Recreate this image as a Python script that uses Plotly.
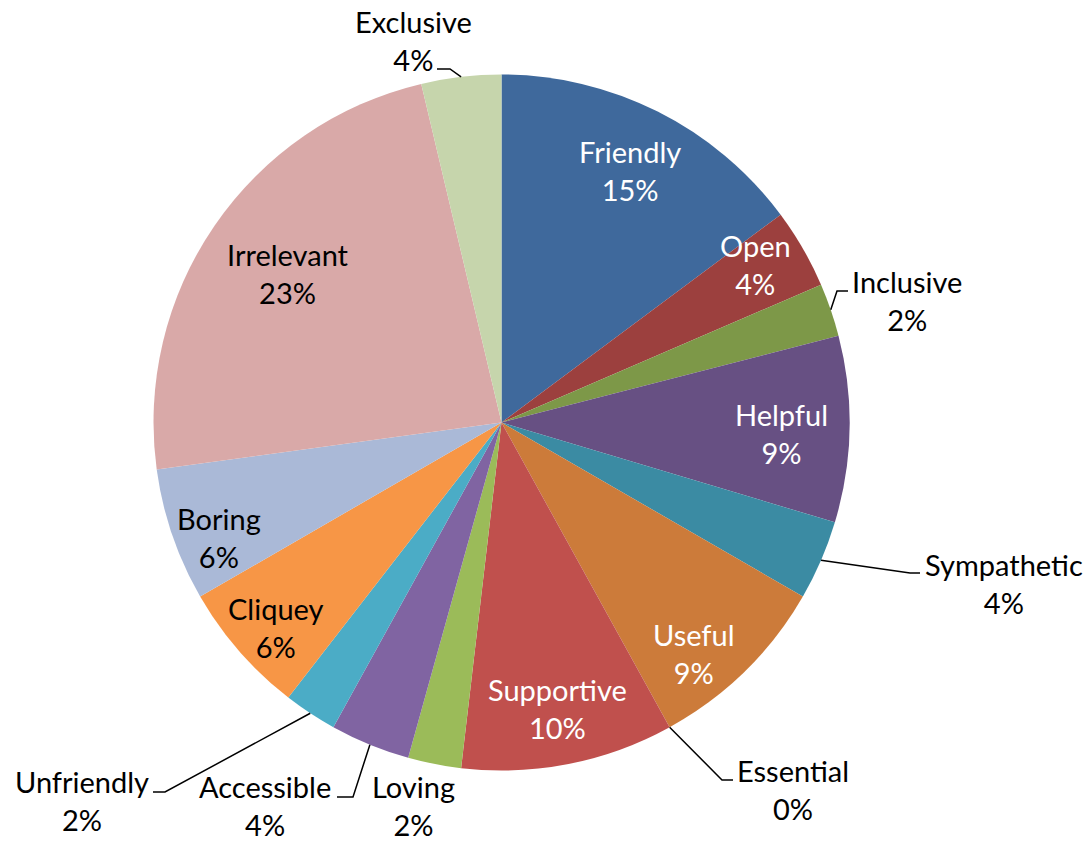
import math
import plotly.graph_objects as go

# Survey responses: how each word describes the group (counts of respondents)
labels = ["Friendly", "Open", "Inclusive", "Helpful", "Sympathetic", "Useful",
          "Essential", "Supportive", "Loving", "Accessible", "Unfriendly",
          "Cliquey", "Boring", "Irrelevant", "Exclusive"]
counts = [12, 3, 2, 7, 3, 7, 0, 8, 2, 3, 2, 5, 5, 19, 3]
colors = ["#3F699C", "#9C403E", "#7D9848", "#675083", "#3B8BA3", "#CC7B3A",
          "#4F81BD", "#C0504D", "#9BBB59", "#8064A2", "#4BACC6", "#F79646",
          "#AAB9D7", "#D9A9A8", "#C6D5AC"]

W, H = 1089, 844
CX, CY, R = 501.5, 422.5, 348.0
FONT = "Lato"
FSIZE = 29

total = sum(counts)
pct = [round(100 * c / total) for c in counts]


def px(x, y):
    return x / W, 1 - y / H


# label block centres (pixels) for labels drawn on the slices
inside = {
    "Friendly": ((630, 171), "white"),
    "Open": ((755, 264), "white"),
    "Helpful": ((781, 433), "white"),
    "Useful": ((694, 653), "white"),
    "Supportive": ((557, 708), "white"),
    "Cliquey": ((276, 627), "black"),
    "Boring": ((219, 537), "black"),
    "Irrelevant": ((288, 273), "black"),
}

# labels placed outside: block centre, leader elbow and leader end (pixels)
outside = {
    "Exclusive": ((413, 40), (450, 69), (437, 69)),
    "Inclusive": ((907, 300), (837, 291), (848, 291)),
    "Sympathetic": ((1004, 583), (910, 573), (920, 573)),
    "Essential": ((793, 789), (722, 780), (733, 780)),
    "Accessible": ((265, 805), (353, 797), (337, 797)),
    "Unfriendly": ((82, 800), (165, 792), (153, 792)),
    "Loving": ((413, 805), None, None),
}

fig = go.Figure(go.Pie(
    labels=labels, values=counts, sort=False, direction="clockwise",
    rotation=0, textinfo="none", hoverinfo="label+percent",
    marker=dict(colors=colors, line=dict(width=0)),
    domain=dict(x=[(CX - R) / W, (CX + R) / W],
                y=[1 - (CY + R) / H, 1 - (CY - R) / H]),
    showlegend=False,
))

annotations = []
shapes = []
cum = 0
for lab, c, p in zip(labels, counts, pct):
    theta = 2 * math.pi * (cum + c / 2) / total
    cum += c
    text = f"{lab}<br>{p}%"
    if lab in inside:
        (x, y), col = inside[lab]
    else:
        (x, y), elbow, end = outside[lab]
        col = "black"
        if elbow is not None:
            sx, sy = CX + R * math.sin(theta), CY - R * math.cos(theta)
            pts = [px(sx, sy), px(*elbow), px(*end)]
            path = "M {} {} L {} {} L {} {}".format(*[v for pt in pts for v in pt])
            shapes.append(dict(type="path", xref="paper", yref="paper", path=path,
                               line=dict(color="black", width=1.5)))
    ax, ay = px(x, y)
    annotations.append(dict(x=ax, y=ay, xref="paper", yref="paper", text=text,
                            showarrow=False, xanchor="center", yanchor="middle",
                            align="center", borderpad=0,
                            font=dict(family=FONT, size=FSIZE, color=col)))

fig.update_layout(
    width=W, height=H, margin=dict(l=0, r=0, t=0, b=0),
    paper_bgcolor="white", plot_bgcolor="white",
    annotations=annotations, shapes=shapes,
)

fig.write_html("out.html")
